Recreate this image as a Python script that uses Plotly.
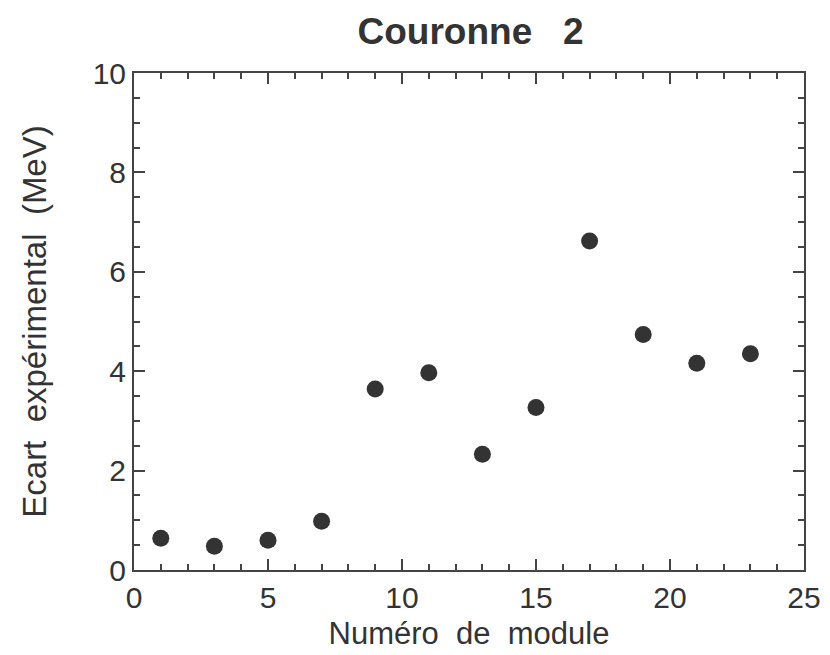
import plotly.graph_objects as go

module = [1, 3, 5, 7, 9, 11, 13, 15, 17, 19, 21, 23]
ecart = [0.64, 0.48, 0.60, 0.98, 3.64, 3.97, 2.33, 3.27, 6.62, 4.74, 4.16, 4.35]
x_ticks = [0, 5, 10, 15, 20, 25]
y_ticks = [0, 2, 4, 6, 8, 10]

ink = "#333333"
font = "Liberation Sans, Arial, sans-serif"

fig = go.Figure(go.Scatter(
    x=module, y=ecart, mode="markers",
    marker=dict(size=17, color="#333333", line=dict(width=0)),
    showlegend=False,
))

axis_common = dict(
    showgrid=False, zeroline=False, showline=True, linecolor="#444444", linewidth=2,
    mirror="ticks", ticks="inside", tickcolor="#444444", tickwidth=2,
    tickfont=dict(family=font, size=30, color=ink), automargin=False,
)

fig.update_xaxes(
    range=[0, 25], tickvals=x_ticks, ticklen=11,
    minor=dict(dtick=1, ticks="inside", ticklen=6, tickcolor="#444444", tickwidth=1.5),
    title=dict(text="Numéro  de  module", font=dict(family=font, size=31, color=ink), standoff=9),
    **axis_common,
)
fig.update_yaxes(
    range=[0, 10], tickvals=y_ticks, ticklen=11,
    minor=dict(dtick=0.5, ticks="inside", ticklen=6, tickcolor="#444444", tickwidth=1.5),
    title=dict(text="Ecart  expérimental  (MeV)", font=dict(family=font, size=33, color=ink), standoff=36),
    **axis_common,
)

fig.update_layout(
    width=830, height=655,
    margin=dict(l=134, r=26, t=73, b=85),
    paper_bgcolor="white", plot_bgcolor="white",
    title=dict(text="<b>Couronne   2</b>", x=0.567, xanchor="center", y=0.952, yanchor="middle",
               font=dict(family=font, size=37, color=ink)),
)

fig.write_html("out.html")
